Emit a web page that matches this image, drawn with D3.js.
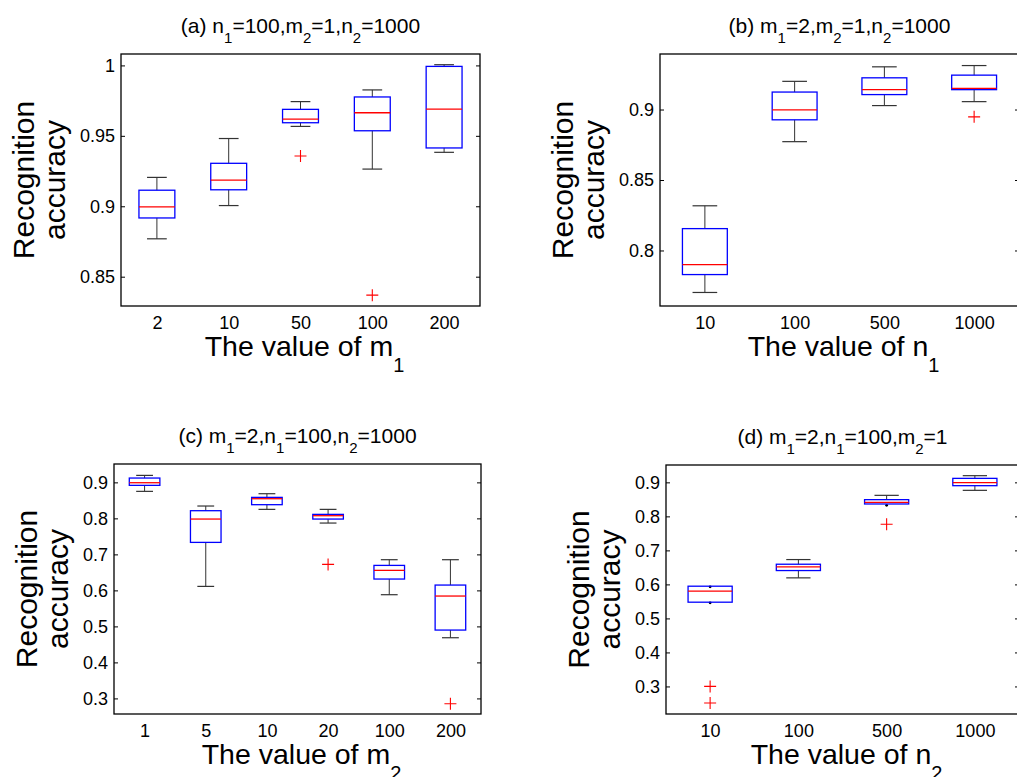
<!DOCTYPE html>
<html><head><meta charset="utf-8">
<script src="https://cdn.jsdelivr.net/npm/d3@7"></script>
<style>
body{margin:0;background:#fff}
svg{display:block}
text{font-family:"Liberation Sans",Arial,Helvetica,sans-serif;fill:#000}
</style></head>
<body><svg id="chart" width="1017" height="777"></svg>
<script>
// ---------- data ----------
const titles = ["(a) n_1=100,m_2=1,n_2=1000", "(b) m_1=2,m_2=1,n_2=1000", "(c) m_1=2,n_1=100,n_2=1000", "(d) m_1=2,n_1=100,m_2=1"];
const xLabels = ["The value of m_1", "The value of n_1", "The value of m_2", "The value of n_2"];
const yLabelLines = ["Recognition", "accuracy"];

const catsA = ["2", "10", "50", "100", "200"];
const whiskerLowA = [0.8769, 0.9005, 0.9567, 0.9264, 0.9383];
const q1A = [0.8917, 0.9117, 0.9593, 0.9536, 0.9414];
const medianA = [0.8995, 0.9186, 0.9619, 0.9664, 0.9690];
const q3A = [0.9114, 0.9305, 0.9688, 0.9776, 0.9993];
const whiskerHighA = [0.9205, 0.9481, 0.9743, 0.9826, 1.0005];
const outliersA = [[], [], [0.9357], [0.8369], []];
const yTicksA = [0.85, 0.9, 0.95, 1];
const yDomainA = [0.8292, 1.0081];

const catsB = ["10", "100", "500", "1000"];
const whiskerLowB = [0.7702, 0.8772, 0.9028, 0.9056];
const q1B = [0.7829, 0.8927, 0.9106, 0.9141];
const medianB = [0.7899, 0.8998, 0.9141, 0.9150];
const q3B = [0.8155, 0.9124, 0.9225, 0.9244];
const whiskerHighB = [0.8317, 0.9200, 0.9303, 0.9312];
const outliersB = [[], [], [], [0.8948]];
const yTicksB = [0.8, 0.85, 0.9];
const yDomainB = [0.7606, 0.9394];

const catsC = ["1", "5", "10", "20", "100", "200"];
const whiskerLowC = [0.8750, 0.6111, 0.8250, 0.7870, 0.5880, 0.4685];
const q1C = [0.8917, 0.7333, 0.8380, 0.7981, 0.6315, 0.4898];
const medianC = [0.8990, 0.7981, 0.8546, 0.8074, 0.6556, 0.5843];
const q3C = [0.9120, 0.8213, 0.8583, 0.8111, 0.6694, 0.6148];
const whiskerHighC = [0.9194, 0.8343, 0.8685, 0.8250, 0.6852, 0.6852];
const outliersC = [[], [], [], [0.6722], [], [0.2852]];
const yTicksC = [0.3, 0.4, 0.5, 0.6, 0.7, 0.8, 0.9];
const yDomainC = [0.2567, 0.951];

const catsD = ["10", "100", "500", "1000"];
const whiskerLowD = [0.5458, 0.6192, 0.8325, 0.8765];
const q1D = [0.5477, 0.6407, 0.8364, 0.8902];
const medianD = [0.5800, 0.6515, 0.8413, 0.8990];
const q3D = [0.5947, 0.6593, 0.8491, 0.9117];
const whiskerHighD = [0.5928, 0.6730, 0.8618, 0.9196];
const outliersD = [[0.3002, 0.2513], [], [0.7767], []];
const yTicksD = [0.3, 0.4, 0.5, 0.6, 0.7, 0.8, 0.9];
const yDomainD = [0.219, 0.951];

// ---------- layout ----------
const panels = [
  {cats: catsA, wl: whiskerLowA, q1: q1A, med: medianA, q3: q3A, wh: whiskerHighA, out: outliersA, ticks: yTicksA, dom: yDomainA,
   frame: {x0: 121, x1: 480, y0: 54, y1: 306}},
  {cats: catsB, wl: whiskerLowB, q1: q1B, med: medianB, q3: q3B, wh: whiskerHighB, out: outliersB, ticks: yTicksB, dom: yDomainB,
   frame: {x0: 660, x1: 1019, y0: 54, y1: 306}},
  {cats: catsC, wl: whiskerLowC, q1: q1C, med: medianC, q3: q3C, wh: whiskerHighC, out: outliersC, ticks: yTicksC, dom: yDomainC,
   frame: {x0: 114, x1: 481, y0: 464, y1: 714}},
  {cats: catsD, wl: whiskerLowD, q1: q1D, med: medianD, q3: q3D, wh: whiskerHighD, out: outliersD, ticks: yTicksD, dom: yDomainD,
   frame: {x0: 666, x1: 1019, y0: 465, y1: 714}}
];

const svg = d3.select("#chart");

// text with one-character subscripts written as _x
function richText(sel, str, mainSize, subSize, subDy) {
  const parts = [];
  let i = 0, buf = "";
  while (i < str.length) {
    if (str[i] === "_" && i + 1 < str.length) {
      if (buf) parts.push({t: buf, sub: false});
      buf = "";
      parts.push({t: str[i + 1], sub: true});
      i += 2;
    } else { buf += str[i]; i++; }
  }
  if (buf) parts.push({t: buf, sub: false});
  let shifted = false;
  parts.forEach(p => {
    const ts = sel.append("tspan").text(p.t).style("font-size", (p.sub ? subSize : mainSize) + "px");
    if (p.sub && !shifted) { ts.attr("dy", subDy); shifted = true; }
    else if (!p.sub && shifted) { ts.attr("dy", -subDy); shifted = false; }
  });
}

panels.forEach((p, k) => {
  const f = p.frame;
  const g = svg.append("g");
  const x = d3.scaleLinear().domain([0.5, p.cats.length + 0.5]).range([f.x0, f.x1]);
  const y = d3.scaleLinear().domain(p.dom).range([f.y1, f.y0]);
  const bw = (x(1) - x(0)) * 0.5;
  const cw = bw * 0.55;

  // axes
  const la = g.append("g").attr("transform", `translate(${f.x0},0)`)
    .call(d3.axisLeft(y).tickValues(p.ticks).tickFormat(d => String(d)).tickSizeInner(-4).tickSizeOuter(0).tickPadding(6));
  const ra = g.append("g").attr("transform", `translate(${f.x1},0)`)
    .call(d3.axisRight(y).tickValues(p.ticks).tickFormat("").tickSizeInner(-4).tickSizeOuter(0));
  const ba = g.append("g").attr("transform", `translate(0,${f.y1})`)
    .call(d3.axisBottom(x).tickValues(d3.range(1, p.cats.length + 1)).tickFormat(d => p.cats[d - 1]).tickSize(0).tickPadding(10));
  [la, ra, ba].forEach(a => {
    a.select(".domain").remove();
    a.selectAll("line").attr("stroke", "#000").attr("stroke-width", 1);
    a.selectAll("text").style("font-size", "18px").attr("fill", "#000");
  });
  g.append("rect").attr("x", f.x0).attr("y", f.y0).attr("width", f.x1 - f.x0).attr("height", f.y1 - f.y0)
    .attr("fill", "none").attr("stroke", "#000").attr("stroke-width", 1.3);

  // boxes
  p.cats.forEach((c, i) => {
    const cx = x(i + 1);
    const yq1 = y(p.q1[i]), yq3 = y(p.q3[i]), ywl = y(p.wl[i]), ywh = y(p.wh[i]);
    // upper whisker
    if (Math.abs(yq3 - ywh) < 1.5 || ywh > yq3) {
      g.append("circle").attr("cx", cx).attr("cy", ywh).attr("r", 1.4).attr("fill", "#000");
    } else {
      g.append("line").attr("x1", cx).attr("x2", cx).attr("y1", yq3).attr("y2", ywh).attr("stroke", "#333").attr("stroke-width", 1);
      g.append("line").attr("x1", cx - cw / 2).attr("x2", cx + cw / 2).attr("y1", ywh).attr("y2", ywh).attr("stroke", "#333").attr("stroke-width", 1.2);
    }
    // lower whisker
    if (Math.abs(ywl - yq1) < 1.5 || ywl < yq1) {
      g.append("circle").attr("cx", cx).attr("cy", ywl).attr("r", 1.4).attr("fill", "#000");
    } else {
      g.append("line").attr("x1", cx).attr("x2", cx).attr("y1", yq1).attr("y2", ywl).attr("stroke", "#333").attr("stroke-width", 1);
      g.append("line").attr("x1", cx - cw / 2).attr("x2", cx + cw / 2).attr("y1", ywl).attr("y2", ywl).attr("stroke", "#333").attr("stroke-width", 1.2);
    }
    g.append("rect").attr("x", cx - bw / 2).attr("y", yq3).attr("width", bw).attr("height", Math.max(yq1 - yq3, 0.5))
      .attr("fill", "none").attr("stroke", "#0000ff").attr("stroke-width", 1.3);
    g.append("line").attr("x1", cx - bw / 2).attr("x2", cx + bw / 2).attr("y1", y(p.med[i])).attr("y2", y(p.med[i]))
      .attr("stroke", "#ff0000").attr("stroke-width", 1.3);
    p.out[i].forEach(v => {
      const oy = y(v), s = 6;
      g.append("path").attr("d", `M${cx - s},${oy}H${cx + s}M${cx},${oy - s}V${oy + s}`)
        .attr("stroke", "#ff0000").attr("stroke-width", 1.1).attr("fill", "none");
    });
  });

  // title
  const midX = (f.x0 + f.x1) / 2;
  const t = g.append("text").attr("x", midX).attr("y", f.y0 - 21).attr("text-anchor", "middle");
  richText(t, titles[k], 21, 15, 10);

  // x label
  const xl = g.append("text").attr("x", midX + 4).attr("y", f.y1 + 50).attr("text-anchor", "middle");
  richText(xl, xLabels[k], 28.5, 20, 16);

  // y label
  let maxW = 0;
  la.selectAll("text").each(function () { maxW = Math.max(maxW, this.getBBox().width); });
  const accX = f.x0 - 6 - maxW - 15;
  const midY = (f.y0 + f.y1) / 2;
  g.append("text").attr("transform", `translate(${accX - 31},${midY}) rotate(-90)`).attr("text-anchor", "middle")
    .style("font-size", "30px").text(yLabelLines[0]);
  g.append("text").attr("transform", `translate(${accX},${midY}) rotate(-90)`).attr("text-anchor", "middle")
    .style("font-size", "30px").text(yLabelLines[1]);
});
</script></body></html>
